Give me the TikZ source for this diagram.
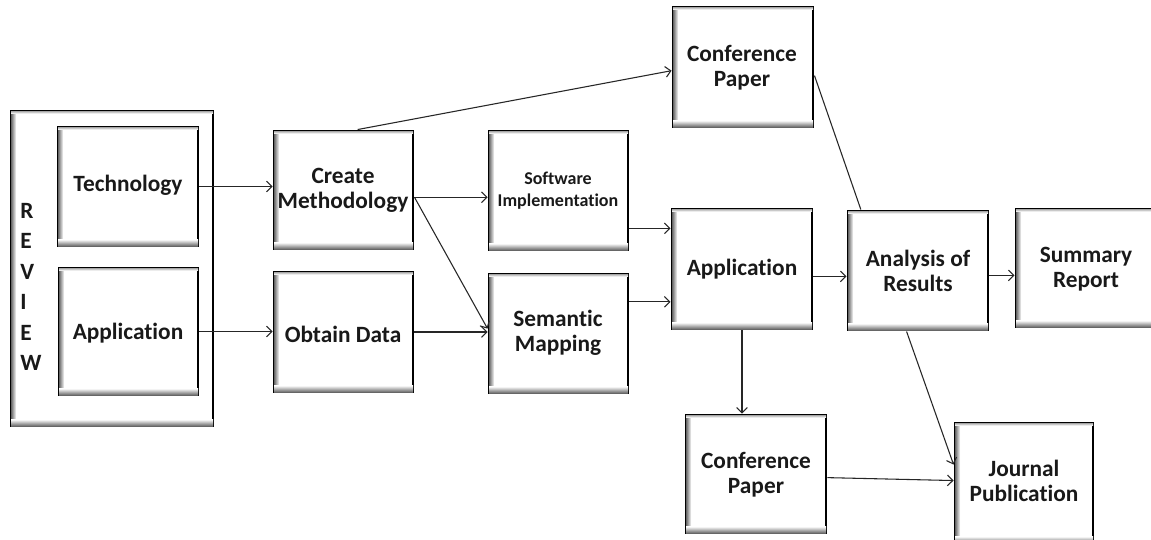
\documentclass[tikz,border=0pt]{standalone}
\usepackage{fontspec}
\setmainfont{Carlito}[Ligatures=NoCommon]
\usetikzlibrary{fit,calc,arrows.meta}
\newcommand\inshadow[1]{%
  \shade[left color=black!60, right color=white] ([shift={(1.1pt,-1.1pt)}]#1.north west) rectangle ([shift={(5pt,1.1pt)}]#1.south west);
  \shade[top color=white, bottom color=black!60] ([shift={(1.1pt,6pt)}]#1.south west) rectangle ([shift={(-1.1pt,1.1pt)}]#1.south east);
  \shade[top color=black!35, bottom color=white] ([shift={(1.1pt,-1.1pt)}]#1.north west) rectangle ([shift={(-1.1pt,-3pt)}]#1.north east);
}
\begin{document}
\begin{tikzpicture}[x=0.75pt,y=-0.75pt,
  box/.style={draw=black, line width=2.2pt, fill=white, inner sep=0pt},
  lbl/.style={align=center, inner sep=0pt, text=black!90, font=\fontsize{17.5}{18.5}\selectfont\bfseries},
  smalllbl/.style={lbl, font=\fontsize{13.5}{16.5}\selectfont\bfseries},
  conn/.style={draw=black!85, line width=0.8pt, -{Straight Barb[length=4pt,width=8pt,line width=0.8pt]}},
  plainline/.style={draw=black!85, line width=0.8pt}]
\useasboundingbox (0,0) rectangle (1151,539);
\fill[white] (0,0) rectangle (1151,539);
\clip (0,0) rectangle (1151,539);

% boxes
\node[box, fit={(11,111) (213,426)}] (review) {};
\node[box, fit={(58,127) (198,246)}] (tech) {};
\node[box, fit={(59,268) (198,395)}] (appl) {};
\node[box, fit={(274,131) (413,249)}] (cm) {};
\node[box, fit={(274,272) (413,392)}] (od) {};
\node[box, fit={(489,131) (628,250)}] (si) {};
\node[box, fit={(489,274) (628,393)}] (sm) {};
\node[box, fit={(673,7) (813,127)}] (cpa) {};
\node[box, fit={(672,209) (812,329)}] (app) {};
\node[box, fit={(848,211) (988,330)}] (ana) {};
\node[box, fit={(1016,209) (1156,327)}] (sum) {};
\node[box, fit={(686,415) (826,533)}] (cpb) {};
\node[box, fit={(955,423) (1093,543)}] (jp) {};

\foreach \n in {review,tech,appl,cm,od,si,sm,cpa,app,ana,sum,cpb,jp} {\inshadow{\n}}

% labels
\node[lbl, align=left, anchor=west, font=\fontsize{17.5}{22.8}\selectfont\bfseries] (rvtext) at (20,287) {R\\E\\V\\I\\E\\W};
\node[lbl] (techt) at (128,185) {Technology};
\node[lbl] (applt) at (128,333) {Application};
\node[lbl] (cmt) at (343,190) {Create\\Methodology};
\node[lbl] (odt) at (343,334) {Obtain Data};
\node[smalllbl] (sit) at (558,191) {Software\\Implementation};
\node[lbl] (smt) at (558,333) {Semantic\\Mapping};
\node[lbl] (cpat) at (742,68) {Conference\\Paper};
\node[lbl] (appt) at (742,269) {Application};
\node[lbl] (anat) at (918,271) {Analysis of\\Results};
\node[lbl] (sumt) at (1086,269) {Summary\\Report};
\node[lbl] (cpbt) at (756,475) {Conference\\Paper};
\node[lbl] (jpt) at (1024,481) {Journal\\Publication};

% connectors
\draw[conn] (tech.east) -- (tech.east -| cm.west);
\draw[conn] (appl.east) -- (appl.east -| od.west);
\coordinate (cmout) at ($(cm.north east)!0.56!(cm.south east)$);
\draw[conn] (cmout) -- (cmout -| si.west);
\draw[conn] (cmout) -- ($(sm.north west)!0.46!(sm.south west)$);
\draw[conn] (od.east) -- (od.east -| sm.west);
\coordinate (siout) at ($(si.north east)!0.81!(si.south east)$);
\draw[conn] (siout) -- (siout -| app.west);
\coordinate (smout) at ($(sm.north east)!0.24!(sm.south east)$);
\draw[conn] (smout) -- (smout -| app.west);
\draw[conn] ($(cm.north west)!0.6!(cm.north east)$) -- ($(cpa.north west)!0.53!(cpa.south west)$);
\coordinate (appout) at ($(app.north east)!0.56!(app.south east)$);
\draw[conn] (appout) -- (appout -| ana.west);
\coordinate (anaout) at ($(ana.north east)!0.54!(ana.south east)$);
\draw[conn] (anaout) -- (anaout -| sum.west);
\draw[plainline] ($(cpa.north east)!0.57!(cpa.south east)$) -- ($(ana.north west)!0.1!(ana.north east)$);
\draw[conn] (app.south) -- (app.south |- cpb.north);
\draw[conn] ($(ana.south west)!0.42!(ana.south east)$) -- ($(jp.north west)!0.35!(jp.south west)$);
\draw[conn] ($(cpb.north east)!0.53!(cpb.south east)$) -- ($(jp.north west)!0.48!(jp.south west)$);
\end{tikzpicture}
\end{document}
